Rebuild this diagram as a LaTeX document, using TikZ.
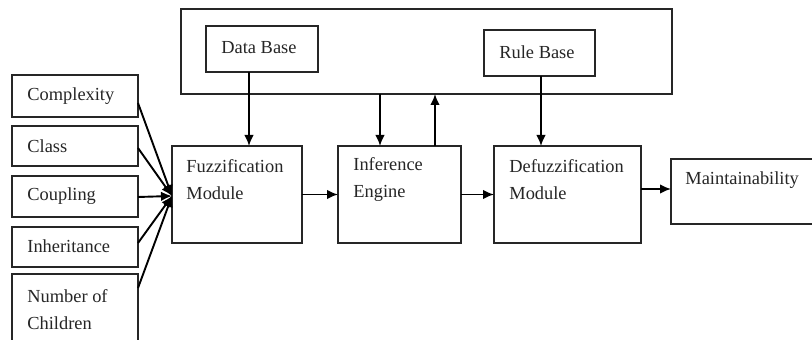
\documentclass[tikz,border=0pt]{standalone}
\usepackage{fontspec}
\setmainfont{Liberation Serif}
\usetikzlibrary{arrows.meta,calc}
\tikzset{
  box/.style={draw=black!85, line width=0.7pt, inner sep=0pt, outer sep=0pt, fill=white},
  txt/.style={anchor=west, inner sep=0pt, align=left, font=\fontsize{9.2}{13.4}\selectfont, text=black!85},
  arr/.style={line width=0.95pt, -{Latex[length=5.5pt,width=4.8pt]}}
}
\begin{document}
\begin{tikzpicture}[x=0.5pt,y=-0.5pt]
\clip (0,0) rectangle (812,340);
\fill[white] (0,0) rectangle (812,340);
% top group
\node[box, minimum width=245.5pt, minimum height=42.5pt] (outer) at (426.5,51.5) {};
\node[box, minimum width=56pt, minimum height=23pt] (db) at (262,49) {};
\node[box, minimum width=55.5pt, minimum height=23pt] (rb) at (539.5,53) {};
\node[txt] (dbt) at (221,48) {Data Base};
\node[txt] (rbt) at (499,52) {Rule Base};
% main row
\node[box, minimum width=65pt, minimum height=48.5pt] (fuzz) at (237,194.5) {};
\node[box, minimum width=61.5pt, minimum height=48.5pt] (inf) at (399.5,194.5) {};
\node[box, minimum width=73.5pt, minimum height=48.5pt] (defz) at (567.5,194.5) {};
\node[box, minimum width=89.5pt, minimum height=32.5pt] (maint) at (760.5,191.5) {};
\node[txt] (fuzzt) at (186,179.5) {Fuzzification\\Module};
\node[txt] (inft) at (353,179.5) {Inference\\Engine};
\node[txt] (defzt) at (509,179.5) {Defuzzification\\Module};
\node[txt] (maintt) at (685,180) {Maintainability};
% inputs
\node[box, minimum width=63pt, minimum height=21pt] (comp) at (75,96) {};
\node[box, minimum width=63pt, minimum height=20pt] (cls) at (75,146) {};
\node[box, minimum width=63pt, minimum height=20.5pt] (coup) at (75,196.5) {};
\node[box, minimum width=63pt, minimum height=20pt] (inh) at (75,247) {};
\node[box, minimum width=63pt, minimum height=43pt] (noc) at (75,317) {};
\node[txt] (compt) at (27,96) {Complexity};
\node[txt] (clst) at (27,146) {Class};
\node[txt] (coupt) at (27,196) {Coupling};
\node[txt] (inht) at (27,246) {Inheritance};
\node[txt] (noct) at (27,309.5) {Number of\\Children};
% connectors
\coordinate (xa) at (249,0);
\coordinate (xb) at (380,0);
\coordinate (xc) at (435,0);
\coordinate (xd) at (541,0);
\coordinate (hub) at ($(fuzz.west)+(0,1.5)$);
\draw[arr] (db.south -| xa) -- (fuzz.north -| xa);
\draw[arr] (outer.south -| xb) -- (inf.north -| xb);
\draw[arr] (inf.north -| xc) -- (outer.south -| xc);
\draw[arr] (rb.south -| xd) -- (defz.north -| xd);
\draw[arr] (fuzz.east) -- (inf.west);
\draw[arr] (inf.east) -- (defz.west);
\draw[arr] ($(defz.east)+(0,-5.5)$) -- ($(maint.west)+(0,-2.5)$);
\draw[arr] ($(comp.east)+(0,7)$) -- (hub);
\draw[arr] ($(cls.east)+(0,2)$) -- (hub);
\draw[arr] ($(coup.east)+(0,0.5)$) -- (hub);
\draw[arr] ($(inh.east)+(0,-4)$) -- (hub);
\draw[arr] ($(noc.east)+(0,-29)$) -- (hub);
\end{tikzpicture}
\end{document}
